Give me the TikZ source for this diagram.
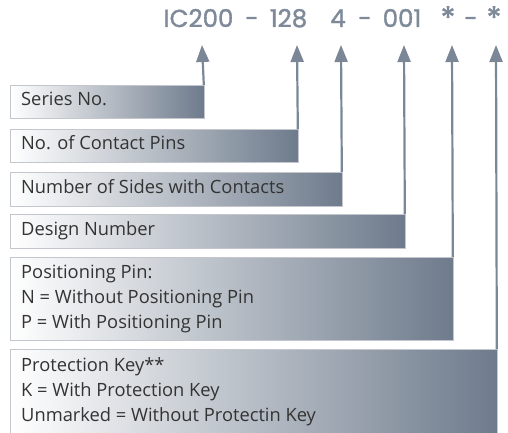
\documentclass[tikz,border=0pt]{standalone}
\usepackage{fontspec}
\setmainfont{Open Sans}
\newfontfamily\headfont[FakeBold=1.4]{Poppins}
\usetikzlibrary{arrows.meta}
\definecolor{slate}{HTML}{6E7B8C}
\definecolor{linecol}{HTML}{7B8797}
\definecolor{headcol}{HTML}{7E8A99}
\definecolor{txtcol}{HTML}{333333}
\definecolor{edgecol}{HTML}{C3C7CD}
\tikzset{
  infobox/.style={draw=edgecol, line width=0.8bp, left color=white, right color=slate,
    shading angle=90, anchor=north west, inner sep=0pt},
  boxtext/.style={anchor=base west, inner sep=0pt, text=txtcol, font=\fontsize{18.3bp}{25bp}\selectfont},
  headtext/.style={anchor=base, inner sep=0pt, text=headcol, font=\headfont\fontsize{24.5bp}{24bp}\selectfont},
  headstar/.style={headtext, font=\headfont\fontsize{31bp}{31bp}\selectfont},
  conn/.style={draw=linecol, line width=2.2bp, -{Triangle[length=17bp,width=13bp]}}
}
\begin{document}
\begin{tikzpicture}[x=1bp,y=-1bp]
\useasboundingbox (0,0) rectangle (508,433);
\clip (0,0) rectangle (508,433);
% header
\node[headtext] (h1) at (198.5,27) {IC200};
\node[headtext] (h2) at (252,27) {-};
\node[headtext] (h3) at (288.5,27) {128};
\node[headtext] (h4) at (338,27) {4};
\node[headtext] (h5) at (365,27) {-};
\node[headtext] (h6) at (402,27) {001};
\node[headstar] (h7) at (448,29) {*};
\node[headtext] (h8) at (471,27) {-};
\node[headstar] (h9) at (494,29) {*};
% boxes
\node[infobox, minimum width=194bp, minimum height=33bp] (b1) at (10,85) {};
\node[infobox, minimum width=288bp, minimum height=33bp] (b2) at (10,129) {};
\node[infobox, minimum width=332bp, minimum height=34bp] (b3) at (10,172) {};
\node[infobox, minimum width=395bp, minimum height=34bp] (b4) at (10,214) {};
\node[infobox, minimum width=443bp, minimum height=83bp] (b5) at (10,257) {};
\node[infobox, minimum width=487bp, minimum height=95bp] (b6) at (10,349) {};
% texts
\node[boxtext] (t1) at (21,106) {Series No.};
\node[boxtext] (t2) at (21,150) {No. of Contact Pins};
\node[boxtext] (t3) at (21,193.5) {Number of Sides with Contacts};
\node[boxtext] (t4) at (21,235.5) {Design Number};
\node[boxtext] (t5a) at (21,278) {Positioning Pin:};
\node[boxtext] (t5b) at (21,303) {N = Without Positioning Pin};
\node[boxtext] (t5c) at (21,328) {P = With Positioning Pin};
\node[boxtext] (t6a) at (21,371) {Protection Key**};
\node[boxtext] (t6b) at (21,396) {K = With Protection Key};
\node[boxtext] (t6c) at (21,421) {Unmarked = Without Protectin Key};
% arrow tips
\coordinate (a1) at (202,45);
\coordinate (a2) at (297,45);
\coordinate (a3) at (341,45);
\coordinate (a4) at (404,45);
\coordinate (a5) at (452,45);
\coordinate (a6) at (496,45);
\draw[conn] ([xshift=-1bp]b1.north east) -- (a1);
\draw[conn] ([xshift=-1bp]b2.north east) -- (a2);
\draw[conn] ([xshift=-1bp]b3.north east) -- (a3);
\draw[conn] ([xshift=-1bp]b4.north east) -- (a4);
\draw[conn] ([xshift=-1bp]b5.north east) -- (a5);
\draw[conn] ([xshift=-1bp]b6.north east) -- (a6);
\end{tikzpicture}
\end{document}
